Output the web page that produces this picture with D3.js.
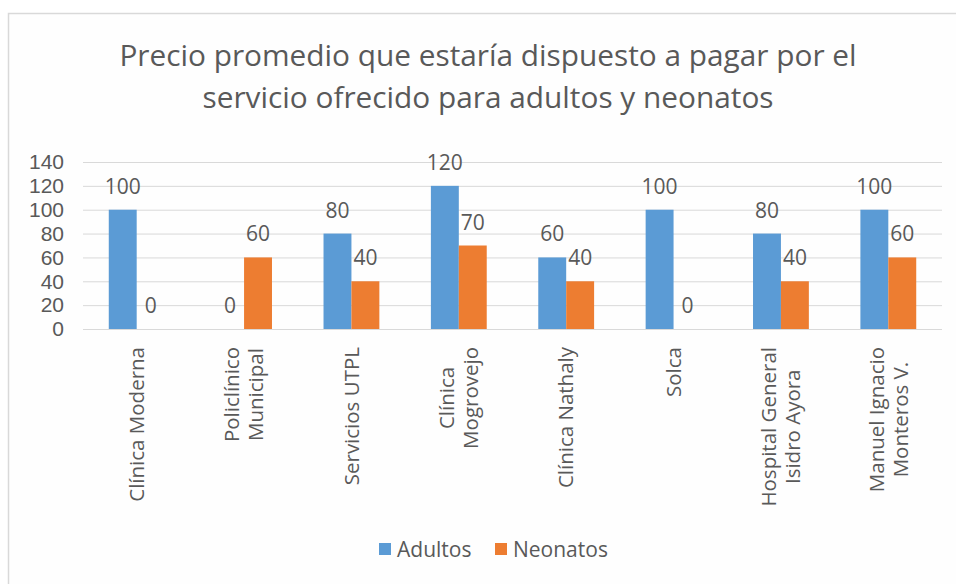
<!DOCTYPE html>
<html>
<head>
<meta charset="utf-8">
<script src="https://cdn.jsdelivr.net/npm/d3@7"></script>
<style>
    body { margin: 0; background: #ffffff; }
    svg { display: block; font-family: "Open Sans", "DejaVu Sans", sans-serif; }
    .tick text { fill: #595959; }
</style>
</head>
<body>
<svg width="956" height="584"></svg>
<script>
// Chart data
const categories = ["Clínica Moderna", "Policlínico Municipal", "Servicios UTPL", "Clínica Mogrovejo",
    "Clínica Nathaly", "Solca", "Hospital General Isidro Ayora", "Manuel Ignacio Monteros V."];
const categoryLines = [["Clínica Moderna"], ["Policlínico", "Municipal"], ["Servicios UTPL"], ["Clínica", "Mogrovejo"],
    ["Clínica Nathaly"], ["Solca"], ["Hospital General", "Isidro Ayora"], ["Manuel Ignacio", "Monteros V."]];
const seriesNames = ["Adultos", "Neonatos"];
const adultos = [100, 0, 80, 120, 60, 100, 80, 100];
const neonatos = [0, 60, 40, 70, 40, 0, 40, 60];
const yTicks = [0, 20, 40, 60, 80, 100, 120, 140];
const titleLines = ["Precio promedio que estaría dispuesto a pagar por el",
    "servicio ofrecido para adultos y neonatos"];

const colors = {Adultos: "#5b9bd5", Neonatos: "#ed7d31"};
const textColor = "#595959";
const gridColor = "#d9d9d9";

const svg = d3.select("svg");

// Chart frame (only top and left edges visible in the crop)
svg.append("rect")
    .attr("x", 8.5)
    .attr("y", 13.5)
    .attr("width", 1000)
    .attr("height", 1000)
    .attr("fill", "#fefefe")
    .attr("stroke", gridColor)
    .attr("stroke-width", 1.5);

// Title
svg.append("text")
    .attr("x", 488)
    .attr("y", 66)
    .attr("text-anchor", "middle")
    .attr("fill", textColor)
    .style("font-size", "29.8px")
    .selectAll("tspan")
    .data(titleLines)
    .join("tspan")
    .attr("x", 488)
    .attr("dy", (d, i) => i === 0 ? 0 : 42)
    .text(d => d);

// Scales
const plot = {left: 83, right: 942, top: 162, bottom: 329};

const x0 = d3.scaleBand()
    .domain(categories)
    .range([plot.left, plot.right])
    .paddingInner(0.48)
    .paddingOuter(0.24);

const x1 = d3.scaleBand()
    .domain(seriesNames)
    .range([0, x0.bandwidth()]);

const y = d3.scaleLinear()
    .domain([0, 140])
    .range([plot.bottom, plot.top]);

// Gridlines
const grid = svg.append("g")
    .attr("transform", `translate(${plot.left},0)`)
    .call(d3.axisLeft(y).tickValues(yTicks).tickSize(-(plot.right - plot.left)).tickFormat(""));
grid.select(".domain").remove();
grid.selectAll(".tick line").attr("stroke", gridColor).attr("stroke-width", 1);

// Y axis labels
const yAxis = svg.append("g")
    .attr("transform", `translate(${plot.left - 19},0)`)
    .call(d3.axisLeft(y).tickValues(yTicks).tickSize(0).tickPadding(0));
yAxis.select(".domain").remove();
yAxis.selectAll(".tick text")
    .style("font-size", "21px")
    .attr("fill", textColor);

// Bars
const rows = categories.map((c, i) => ({
    category: c,
    values: [{series: "Adultos", value: adultos[i]}, {series: "Neonatos", value: neonatos[i]}]
}));

const groups = svg.append("g")
    .selectAll("g")
    .data(rows)
    .join("g")
    .attr("transform", d => `translate(${x0(d.category)},0)`);

groups.selectAll("rect")
    .data(d => d.values)
    .join("rect")
    .attr("x", d => x1(d.series))
    .attr("y", d => y(d.value))
    .attr("width", x1.bandwidth())
    .attr("height", d => y(0) - y(d.value))
    .attr("fill", d => colors[d.series]);

// Data labels
groups.selectAll("text")
    .data(d => d.values)
    .join("text")
    .attr("x", d => x1(d.series) + x1.bandwidth() / 2)
    .attr("y", d => y(d.value) - 16)
    .attr("text-anchor", "middle")
    .attr("fill", textColor)
    .style("font-size", "21px")
    .text(d => d.value);

// Category labels, rotated
const labelTop = 347;
const lineGap = 24;
categories.forEach((c, i) => {
    const lines = categoryLines[i];
    const cx = x0(c) + x0.bandwidth() / 2;
    const g = svg.append("g").attr("class", "cat-label");
    const texts = lines.map((line, j) => {
        const lx = cx + (j - (lines.length - 1) / 2) * lineGap;
        return g.append("text")
            .attr("transform", `translate(${lx},${labelTop}) rotate(-90)`)
            .attr("dy", "0.35em")
            .attr("fill", textColor)
            .style("font-size", "20.5px")
            .text(line);
    });
    // centre shorter lines inside the block
    const lens = texts.map(t => t.node().getComputedTextLength());
    const maxLen = d3.max(lens);
    texts.forEach(t => {
        t.attr("text-anchor", "middle")
            .attr("x", -maxLen / 2);
    });
});

// Legend
const legendY = 549.5;
const legendItems = [{name: "Adultos", x: 379}, {name: "Neonatos", x: 495}];
legendItems.forEach(item => {
    svg.append("rect")
        .attr("x", item.x)
        .attr("y", legendY - 6.5)
        .attr("width", 12)
        .attr("height", 12)
        .attr("fill", colors[item.name]);
    svg.append("text")
        .attr("x", item.x + 18)
        .attr("y", legendY)
        .attr("dy", "0.35em")
        .attr("fill", textColor)
        .style("font-size", "21px")
        .text(item.name);
});
</script>
</body>
</html>
